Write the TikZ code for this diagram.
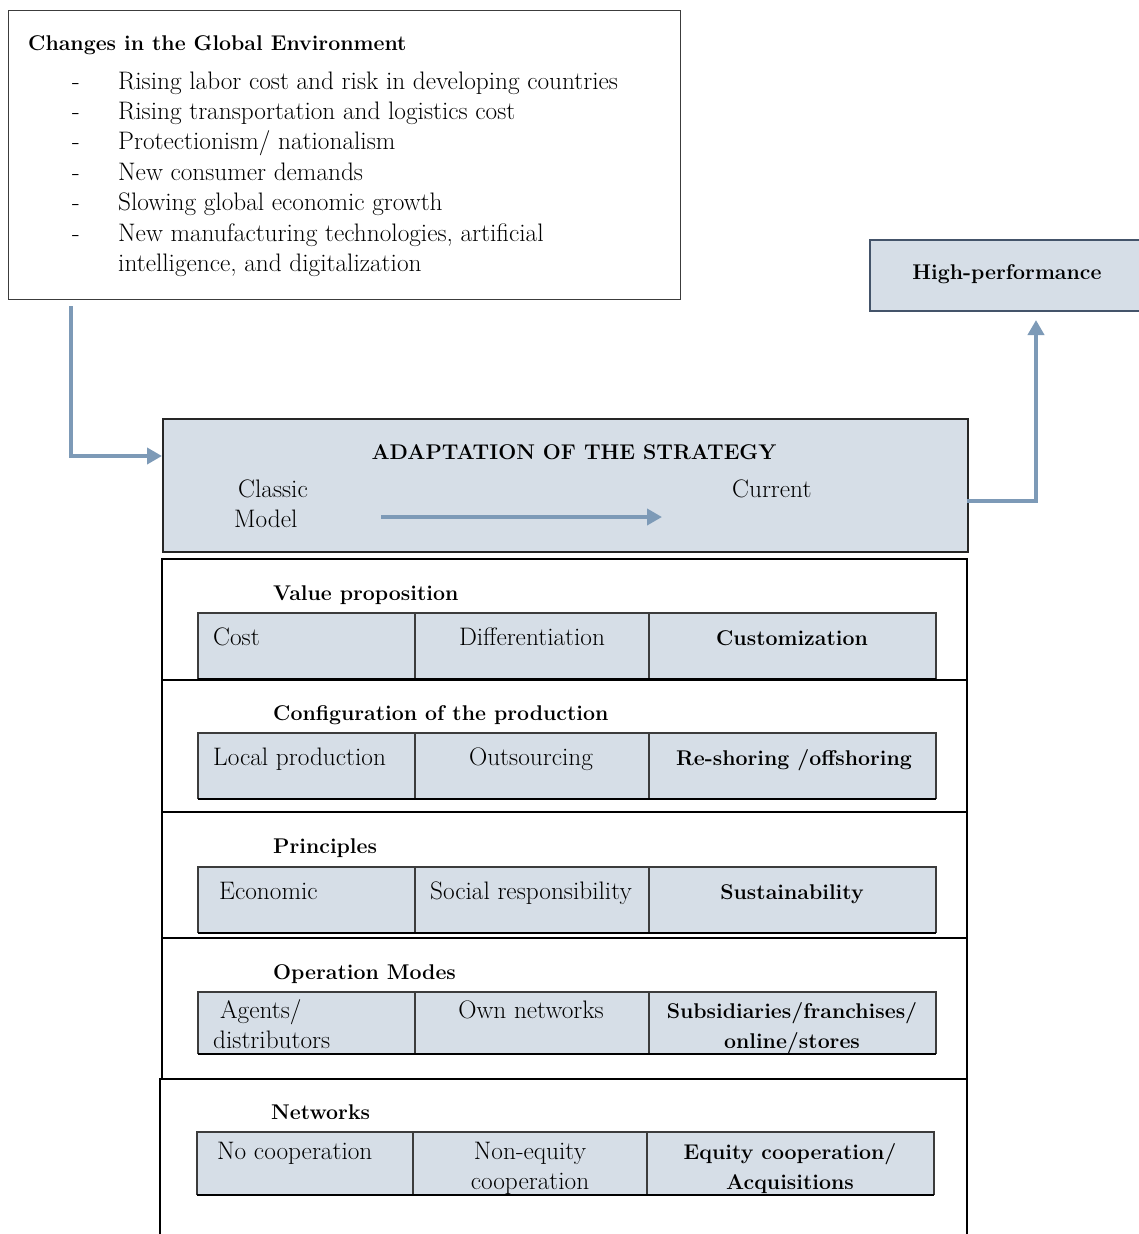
\documentclass[tikz,border=0pt]{standalone}
\usepackage{fontspec}
\setmainfont{Latin Modern Roman}
\usetikzlibrary{arrows.meta}
\definecolor{cellfill}{RGB}{214,222,231}
\definecolor{arrcol}{RGB}{125,154,183}
\definecolor{hpborder}{RGB}{68,84,106}
\definecolor{gridcol}{RGB}{60,60,60}
\begin{document}
\begin{tikzpicture}[x=1pt,y=-1pt,
  reg/.style={inner sep=0pt, font=\fontsize{25.3}{30}\selectfont},
  bld/.style={inner sep=0pt, font=\fontsize{21.3}{30}\selectfont\bfseries},
  arr/.style={draw=arrcol, line width=4.5pt, -{Triangle[length=15pt,width=16pt]}},
  envbox/.style={draw=gridcol, line width=1.4pt, fill=white, inner sep=0pt},
  hpbox/.style={draw=hpborder, line width=2pt, fill=cellfill, inner sep=0pt},
  stratbox/.style={draw=black!85, line width=2pt, fill=cellfill, inner sep=0pt},
  secbox/.style={draw=black, line width=2pt},
  cellline/.style={draw=gridcol, line width=1.3pt},
  cellbottom/.style={draw=black, line width=2.6pt},
]
\useasboundingbox (0,0) rectangle (1139,1234);
\clip (0,0) rectangle (1139,1234);

% ---------- top box ----------
\node[envbox, anchor=north west, minimum width=672pt, minimum height=289pt] (env) at (8,10) {};
\node[bld, anchor=base west] (envt) at (28,50) {Changes in the Global Environment};
\foreach \yy/\txt [count=\i] in {89/{Rising labor cost and risk in developing countries},
  119/{Rising transportation and logistics cost},
  149/{Protectionism/ nationalism},
  180/{New consumer demands},
  210/{Slowing global economic growth},
  241/{New manufacturing technologies, artificial}}{
  \node[reg, anchor=base] (d\i) at (76,\yy) {-};
  \node[reg, anchor=base west] (it\i) at (118,\yy) {\txt};
}
\node[reg, anchor=base west] (it7) at (118,271) {intelligence, and digitalization};

% ---------- high performance ----------
\node[hpbox, anchor=north west, minimum width=290pt, minimum height=71pt] (hp) at (869,239) {};
\node[bld, anchor=base] (hpt) at (1007,279) {High-performance};

% ---------- strategy box ----------
\node[stratbox, anchor=north west, minimum width=805pt, minimum height=133pt] (strat) at (162,418) {};
\node[bld, anchor=base] (stratt) at (574,459) {ADAPTATION OF THE STRATEGY};
\node[reg, anchor=base west] (classic) at (238,497) {Classic};
\node[reg, anchor=base west] (model) at (234,527) {Model};
\node[reg, anchor=base west] (current) at (732,497) {Current};
\coordinate (ia) at (381,517);
\coordinate (ib) at (662,517);
\draw[arr, line width=4pt] (ia) -- (ib);

% ---------- connectors ----------
\coordinate (e1) at (71,306);
\coordinate (sIn) at (162,456);
\draw[arr] (e1) |- (sIn);
\coordinate (sOut) at (967,501);
\coordinate (hpIn) at (1036,320);
\draw[arr] (sOut) -| (hpIn);

% ---------- sections ----------
\draw[secbox] (162,559) rectangle (967,680);
\draw[secbox] (162,680) rectangle (967,812);
\draw[secbox] (162,812) rectangle (967,938);
\draw[secbox] (162,938) rectangle (967,1079);
\draw[secbox] (160,1250) -- (160,1079) -- (967,1079) -- (967,1250);

% tables: top, bottom, x0, x1, x2, x3
\newcommand\mytable[6]{%
  \fill[cellfill] (#3,#1) rectangle (#6,#2);
  \draw[cellline] (#3,#2) -- (#3,#1) -- (#6,#1) -- (#6,#2);
  \draw[cellline] (#4,#1) -- (#4,#2);
  \draw[cellline] (#5,#1) -- (#5,#2);
  \draw[cellbottom] (#3,#2) -- (#6,#2);
}
\mytable{613}{679}{198}{415}{649}{936}
\mytable{733}{799}{198}{415}{649}{936}
\mytable{867}{933}{198}{415}{649}{936}
\mytable{992}{1054}{198}{415}{649}{936}
\mytable{1132}{1195}{197}{413}{647}{934}

% value proposition
\node[bld, anchor=base west] (h1) at (273,600) {Value proposition};
\node[reg, anchor=base west] (c11) at (213,645) {Cost};
\node[reg, anchor=base] (c12) at (532,645) {Differentiation};
\node[bld, anchor=base] (c13) at (792,645) {Customization};

% configuration
\node[bld, anchor=base west] (h2) at (273,720) {Configuration of the production};
\node[reg, anchor=base west] (c21) at (213,765) {Local production};
\node[reg, anchor=base] (c22) at (531,765) {Outsourcing};
\node[bld, anchor=base] (c23) at (794,765) {Re-shoring /offshoring};

% principles
\node[bld, anchor=base west] (h3) at (273,853) {Principles};
\node[reg, anchor=base west] (c31) at (219,899) {Economic};
\node[reg, anchor=base] (c32) at (531,899) {Social responsibility};
\node[bld, anchor=base] (c33) at (792,899) {Sustainability};

% operation modes
\node[bld, anchor=base west] (h4) at (273,979) {Operation Modes};
\node[reg, anchor=base west] (c41a) at (220,1018) {Agents/};
\node[reg, anchor=base west] (c41b) at (213,1048) {distributors};
\node[reg, anchor=base] (c42) at (531,1018) {Own networks};
\node[bld, anchor=base] (c43a) at (792,1018) {Subsidiaries/franchises/};
\node[bld, anchor=base] (c43b) at (792,1048) {online/stores};

% networks
\node[bld, anchor=base west] (h5) at (271,1119) {Networks};
\node[reg, anchor=base west] (c51) at (217,1159) {No cooperation};
\node[reg, anchor=base] (c52a) at (530,1159) {Non-equity};
\node[reg, anchor=base] (c52b) at (530,1189) {cooperation};
\node[bld, anchor=base] (c53a) at (790,1159) {Equity cooperation/};
\node[bld, anchor=base] (c53b) at (790,1189) {Acquisitions};
\end{tikzpicture}
\end{document}
